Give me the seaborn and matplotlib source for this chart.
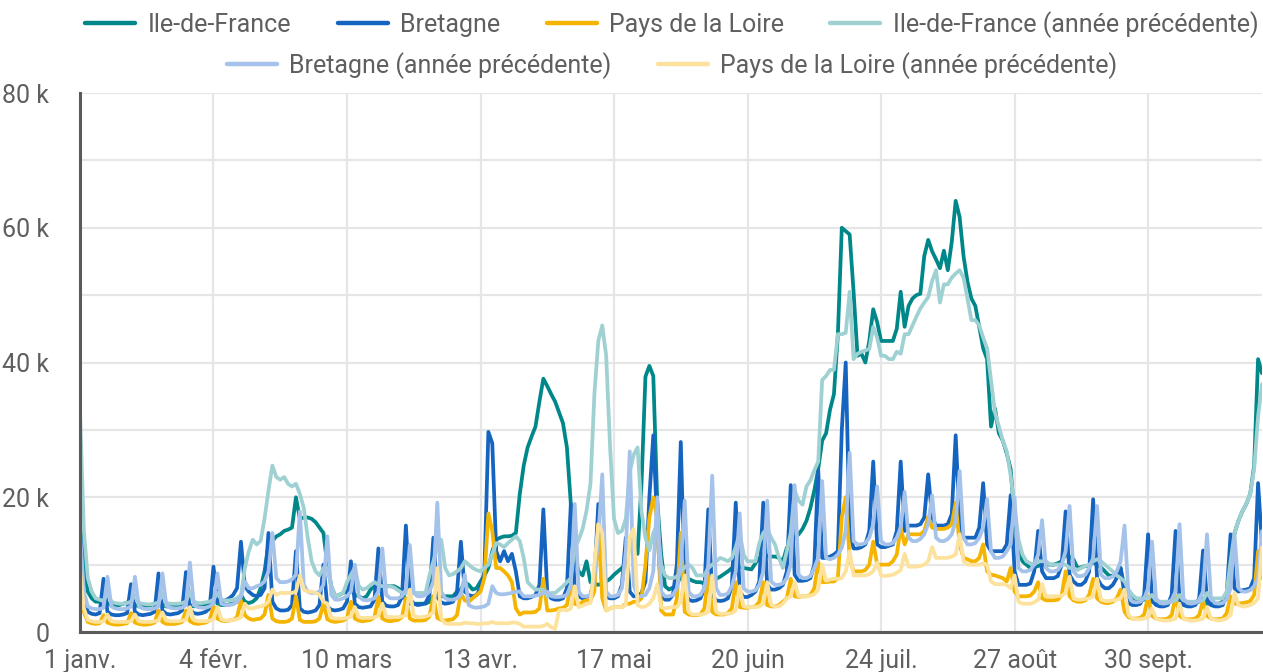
import numpy as np
import pandas as pd
import matplotlib
matplotlib.use("Agg")
import matplotlib.pyplot as plt
from matplotlib.lines import Line2D
import seaborn as sns

# ── Data (valeurs journalières, en milliers) ─────────────────────────────────
START = "2023-01-01"

idf = [
    20, 10, 6, 5, 4.5, 4.5, 5.5,
    4.2, 4, 4, 4, 4.2, 4.3, 5,
    4, 3.8, 3.8, 3.9, 4, 4.2, 5,
    4, 3.8, 3.8, 3.9, 4, 4.2, 5.2,
    4, 3.8, 3.9, 4, 4.1, 4.3, 5.5,
    4.2, 4, 4, 4.1, 4.2, 4.5, 5.5,
    4.5, 4.3, 4.5, 5, 6.5, 9, 13,
    13.5, 14.2, 14.5, 15, 15.2, 15.5, 20,
    16.8, 17, 17, 16.8, 16.3, 15.5, 14.7,
    10, 6.8, 5.3, 5.5, 5.8, 6, 6.3,
    5.5, 5.3, 5, 5.3, 6.3, 6.8, 6.8,
    6.8, 6.8, 6.8, 6.8, 6.5, 6, 4.7,
    4.2, 4.2, 4.2, 4.2, 4.2, 4.5, 5.3,
    5.3, 5.3, 5.3, 5.3, 5.3, 6, 6.3,
    7.4, 7, 6.3, 6.5, 7.5, 8.4, 9.5,
    12, 13.7, 14, 14.2, 14.2, 14.3, 14.7,
    20.5, 24.7, 27.4, 29, 30.5, 34.2, 37.6,
    36.5, 35.3, 34.2, 32.6, 31, 27.4, 19,
    11, 9, 8.4, 10.5, 7.4, 7.2, 7,
    7.2, 7.5, 7.9, 8.5, 9, 9.5, 10,
    12.6, 12, 11.6, 22, 37.9, 39.5, 38,
    19.5, 11.6, 6.8, 6.3, 6.6, 7, 8.4,
    8, 7.9, 7.6, 7.4, 7.4, 7.2, 7.2,
    7.4, 7.9, 8.2, 8.6, 9, 9.5, 10,
    9.7, 9.5, 9.4, 9.3, 10.2, 11, 11.6,
    11.3, 11.2, 11.2, 11, 10.5, 12.5, 13.2,
    14, 14.5, 15.3, 16.5, 18.4, 21, 24.2,
    28.4, 29.5, 33, 35.3, 44.2, 60, 59.5,
    59, 50.5, 41, 41.3, 40, 43.2, 47.9,
    46, 43.2, 43.2, 43.2, 43.2, 45, 50.5,
    45.3, 48.4, 49.5, 50, 50.2, 55.8, 58.2,
    56.5, 55.3, 54, 56.6, 53.7, 57.9, 64,
    61.6, 55.8, 52, 49.5, 48.4, 45.3, 42.1,
    40.5, 30.5, 33.2, 29.5, 28.4, 26.5, 24.2,
    16.8, 12.6, 10.5, 10, 9.5, 9.6, 9.8,
    10, 10, 10, 10, 10.2, 10.5, 11.5,
    11.2, 10.8, 9.5, 9.6, 9.8, 9.8, 10.4,
    10, 9.6, 9, 8.4, 8.3, 8.4, 9.5,
    6.5, 5.8, 5, 4.7, 4.7, 4.8, 5,
    4.5, 4.2, 4.2, 4.2, 4.4, 4.6, 5,
    4.7, 4.2, 4.2, 4.2, 4.3, 4.5, 5,
    4.2, 4.2, 4.2, 4.2, 4.5, 5.3, 10,
    14.7, 16.5, 17.9, 19, 20.5, 24.7, 40.5,
    38.4,
]

bretagne = [
    15, 5, 3, 2.7, 2.6, 2.8, 7.9,
    3, 2.6, 2.5, 2.5, 2.6, 2.8, 7.1,
    3, 2.6, 2.5, 2.6, 2.7, 3, 8.7,
    3.2, 2.7, 2.6, 2.7, 2.8, 3.2, 8.9,
    3.3, 2.8, 2.7, 2.8, 3, 3.5, 9.7,
    4.5, 4.5, 4.7, 5, 5.5, 6.5, 13.4,
    6.8, 6, 5.5, 5.3, 5.5, 6.5, 14.7,
    4.5, 3.5, 3.2, 3.2, 3.3, 4, 12,
    3.5, 3, 2.9, 3, 3.2, 4, 10,
    3.8, 3.3, 3.2, 3.3, 3.5, 4.5, 10.5,
    4.2, 3.7, 3.6, 3.7, 3.8, 4.8, 12.4,
    4.5, 3.9, 3.8, 3.8, 4, 5.2, 15.8,
    5, 4.2, 4, 4.1, 4.3, 5.5, 14,
    5.2, 4.4, 4.2, 4.3, 4.5, 5.8, 13.4,
    6, 5.5, 5.3, 5.5, 6.5, 9, 29.7,
    28, 12, 10.5, 12, 10.5, 11.6, 9,
    5.3, 5, 5, 5.2, 5.5, 7, 18.2,
    5.8, 5, 4.8, 4.8, 5, 6.5, 19,
    6, 5.3, 5, 5.2, 5.5, 8, 19,
    6, 5.2, 5, 5, 5.3, 7, 14,
    6, 5.3, 5.3, 5.8, 7.5, 20, 29.2,
    16, 5.5, 4.8, 4.8, 5.5, 10, 28.2,
    6, 4.8, 4.6, 4.7, 5, 6.5, 18.2,
    5.5, 4.7, 4.6, 4.7, 5, 6.8, 19.2,
    6, 5.2, 5.2, 5.5, 6, 7.5, 19.2,
    7, 6.3, 6.3, 6.5, 7, 9, 21.8,
    8.5, 7.6, 7.6, 7.7, 8, 10, 24,
    11, 11, 11.2, 11.5, 12, 30, 40,
    15, 12.4, 12.4, 12.6, 13, 15, 25.3,
    13, 12.6, 12.6, 12.8, 13, 15, 25.3,
    15, 15.8, 15.8, 15.8, 16, 17, 23.4,
    17, 15.8, 15.8, 15.8, 16, 17.5, 29.2,
    16.5, 14, 14, 14, 14, 15.5, 22.1,
    13, 12, 12, 12, 12, 13, 20.3,
    9, 7, 7, 7, 7.2, 9, 15,
    9, 8, 8, 8, 8.3, 10, 17.9,
    8.5, 7.5, 7, 7, 7.5, 9, 19.7,
    8, 7, 6.5, 6.5, 7, 8, 9.5,
    5.5, 4.3, 4, 4, 4.2, 5.5, 14.5,
    4.8, 4, 3.8, 3.8, 4, 5.5, 15,
    4.8, 4, 3.8, 3.8, 4, 5, 12.1,
    4.8, 4, 3.8, 3.8, 4, 5.5, 14.5,
    6.5, 6, 6.2, 6.3, 6.5, 8, 22.1,
    13,
]

pdl = [
    8.5, 3, 1.5, 1.3, 1.2, 1.3, 2.5,
    1.4, 1.2, 1.1, 1.1, 1.2, 1.3, 2.8,
    1.4, 1.2, 1.1, 1.1, 1.2, 1.4, 3.2,
    1.5, 1.2, 1.2, 1.2, 1.3, 1.5, 3.2,
    1.6, 1.3, 1.2, 1.3, 1.4, 1.7, 3.9,
    2, 1.7, 1.6, 1.7, 1.8, 2.2, 4.7,
    2.5, 2, 1.8, 1.9, 2, 2.6, 5.5,
    2, 1.6, 1.5, 1.5, 1.6, 2, 5.3,
    1.8, 1.5, 1.5, 1.5, 1.6, 2, 4.2,
    1.9, 1.6, 1.5, 1.6, 1.7, 2.1, 4.5,
    2, 1.7, 1.6, 1.7, 1.8, 2.2, 5.3,
    2, 1.7, 1.6, 1.7, 1.8, 2.2, 5,
    2, 1.7, 1.7, 1.7, 1.8, 2.3, 5.3,
    2.1, 1.8, 1.7, 1.8, 1.9, 2.5, 5.8,
    4.7, 4.5, 5, 5.5, 6, 8, 17.6,
    15, 9.5, 9.5, 9, 8.4, 7.4, 3.5,
    2.6, 2.9, 2.9, 2.9, 3, 3.5, 7.9,
    3.2, 3.2, 3.3, 3.5, 3.6, 4, 6.8,
    4.2, 4, 4.5, 4.7, 4.7, 6, 16,
    5, 3.2, 3.5, 3.7, 3.7, 3.7, 4.2,
    4.2, 4.5, 4.5, 5, 10, 17, 20,
    16.8, 3.2, 2.6, 2.6, 2.6, 5, 14.7,
    3, 2.6, 2.5, 2.5, 2.6, 3.5, 8.4,
    3, 2.6, 2.6, 2.6, 2.8, 3.5, 7.4,
    3.7, 3.6, 3.6, 3.7, 3.8, 4.5, 7.4,
    4, 3.8, 3.8, 4, 4.5, 5, 7.9,
    5.3, 5.2, 5.3, 5.3, 5.5, 6.5, 10.5,
    7.4, 7.4, 7.5, 7.5, 8, 17, 20,
    11, 9, 9, 9, 9.2, 10, 13.4,
    10, 10, 10, 10, 10.5, 11.5, 15.5,
    13, 14.5, 14.5, 14.5, 14.5, 15, 17.1,
    15.5, 15.3, 15.3, 15.3, 15.5, 16, 19.2,
    13, 11, 10.8, 10.5, 10.5, 11, 13,
    9, 8.5, 8.4, 8.2, 8, 7.5, 9.5,
    6, 5.3, 5.3, 5.3, 5.4, 6, 7.4,
    5, 4.7, 4.7, 4.7, 4.8, 5.5, 9,
    5.3, 4.7, 4.5, 4.5, 4.7, 5.5, 7.9,
    5, 4.5, 4.3, 4.3, 4.5, 5, 6.3,
    3, 2.2, 2, 2, 2.1, 2.6, 5.3,
    2.4, 2, 1.9, 1.9, 2, 2.5, 5.3,
    2.4, 2, 1.9, 1.9, 2, 2.5, 4.7,
    2.4, 2, 1.9, 1.9, 2, 2.8, 5.3,
    4.2, 4.2, 4.3, 4.4, 4.6, 5.5, 12,
    8,
]

idf_prev = [
    33, 15, 8, 6, 5, 4.8, 4.6,
    5.8, 4.5, 4.3, 4.2, 4.2, 4.3, 4.5,
    5.5, 4.3, 4.2, 4.1, 4.1, 4.2, 4.4,
    5.6, 4.3, 4.2, 4.2, 4.2, 4.3, 4.5,
    6, 4.5, 4.3, 4.3, 4.4, 4.5, 4.8,
    5.8, 4.8, 4.7, 4.7, 4.8, 5, 5.5,
    9.5, 12, 13.7, 13, 13.5, 16.8, 21,
    24.7, 23, 22.6, 23, 22, 21.6, 22,
    20.5, 18.4, 14, 10.5, 9, 8.4, 9.5,
    9.5, 6.8, 5.3, 5.5, 5.8, 7.4, 8.5,
    9.5, 6.8, 6.3, 6.5, 7, 7.4, 7,
    6.8, 6.8, 6.8, 6.6, 6.2, 5.8, 5.8,
    5.8, 5.8, 5.8, 5.8, 5.8, 8.4, 10.5,
    12.6, 13.7, 9.5, 8.4, 8.6, 9, 9.5,
    10.5, 10, 9.5, 9.2, 9, 9.5, 10,
    11.6, 13.2, 13, 12.6, 13.2, 13.7, 14.2,
    13.5, 11, 7.4, 6.8, 6.3, 6.3, 6.3,
    5.3, 5.8, 5.8, 6.3, 6.8, 7.4, 8,
    12.5, 13.7, 15.3, 18, 22, 35.3, 43.2,
    45.5, 41, 27.4, 16.8, 14.7, 15, 16.8,
    23.7, 26.3, 27.4, 17.9, 14, 12.1, 14.7,
    16, 10, 8.4, 8, 8, 8.2, 9,
    9.6, 10, 9.5, 8.4, 8.4, 8.4, 9.5,
    10, 10.5, 11, 10.8, 10.5, 11, 12.6,
    14.7, 11.5, 10.5, 10.5, 10.5, 13.2, 14.7,
    15.3, 14, 13, 11, 9.5, 12, 14.7,
    21, 19.5, 18.9, 21.6, 22.5, 24, 25.3,
    37.4, 38, 38.9, 38.9, 44.2, 44.2, 44.4,
    50.5, 40.5, 41.3, 41.6, 41.8, 42, 45.3,
    43.7, 41, 41, 40.5, 40.5, 41.6, 41.3,
    44.2, 44.2, 45.5, 46.8, 48, 48.9, 49.7,
    52.1, 53.7, 48.9, 51.6, 51.6, 52.6, 53.2,
    53.7, 52.6, 49.5, 46.3, 46.3, 45.5, 43.7,
    42.1, 37.4, 32.6, 30.5, 28.4, 26.8, 23.2,
    18.4, 13.7, 11.5, 10.5, 10.2, 10, 10.5,
    10.5, 10.5, 10, 10, 10, 10, 10,
    9.5, 9.5, 9.2, 9.5, 9.8, 10, 10.5,
    10.8, 10.5, 10, 9.5, 9, 8.4, 8,
    7.5, 6.3, 5.5, 5, 5, 5, 5,
    5.5, 4.7, 4.5, 4.5, 4.5, 4.5, 4.7,
    5.5, 4.7, 4.5, 4.5, 4.5, 4.5, 4.7,
    5.8, 5, 5, 5, 5, 6, 10.5,
    14.7, 16.5, 17.9, 19, 20.5, 24.2, 32,
    36.8,
]

bretagne_prev = [
    14.7, 6, 3.8, 3.5, 3.4, 3.4, 3.6,
    8.2, 3.8, 3.5, 3.4, 3.4, 3.5, 3.8,
    8.2, 3.8, 3.5, 3.4, 3.4, 3.5, 3.8,
    8.7, 3.9, 3.6, 3.5, 3.5, 3.6, 4,
    10.3, 4, 3.7, 3.6, 3.6, 3.8, 4.2,
    8.7, 4.2, 4, 4, 4.1, 4.5, 5.2,
    7.5, 6.5, 6.5, 6.8, 7, 7.5, 9,
    14.7, 8, 7.4, 7.4, 7.5, 7.8, 8.5,
    17.9, 7, 6, 5.8, 5.8, 6, 7,
    14.2, 5.5, 4.8, 4.8, 5, 5.3, 6,
    10, 5.3, 4.8, 4.7, 4.8, 5, 6,
    12.4, 5.5, 5, 5, 5, 5.3, 6.3,
    12.9, 5.8, 5.3, 5.3, 5.5, 6, 7.5,
    19.2, 6, 5, 4.8, 4.8, 5, 5.5,
    8.5, 4, 3.7, 3.6, 3.7, 3.8, 4.2,
    6.8, 5.8, 5.6, 5.6, 5.7, 5.8, 6,
    6, 5.3, 5.3, 5.3, 5.4, 5.5, 5.8,
    6, 5.3, 5.2, 5.2, 5.3, 5.5, 7,
    19, 6, 5.3, 5.3, 5.5, 8, 14,
    23.4, 6, 5.3, 5.3, 5.5, 6.5, 12,
    26.8, 7, 5.3, 5.3, 5.5, 6.5, 9,
    20, 6, 5.3, 5.3, 5.5, 6.5, 10,
    19.5, 6, 5.3, 5.3, 5.5, 6.5, 10,
    23.2, 6.5, 5.5, 5.5, 5.7, 6.8, 9,
    17.6, 6.5, 6, 6, 6.2, 7, 9,
    19.5, 7.5, 7, 7, 7.2, 8, 10,
    21.8, 8.5, 8, 8, 8.3, 9.5, 11,
    22.4, 11, 10.8, 11, 11.5, 12.5, 15,
    26.6, 13.5, 13, 13, 13.2, 14, 16,
    21.6, 13.5, 13, 13, 13.2, 14, 15.5,
    20.8, 14, 13.5, 13.5, 13.8, 14.5, 16,
    20.3, 14, 13.5, 13.5, 13.8, 14.5, 16.5,
    23.9, 14, 13, 13, 13.2, 14, 15.5,
    19.7, 12, 11, 11, 11.2, 12, 13,
    20, 9.5, 9, 9, 9.2, 10, 11.5,
    16.6, 9.5, 9, 9, 9.2, 10, 12,
    18.7, 9, 8.3, 8.3, 8.5, 9.5, 11,
    18.7, 8.5, 8, 8, 8.2, 9, 10.5,
    15.8, 5.5, 4.5, 4.4, 4.5, 5, 6.5,
    13.4, 5, 4.3, 4.2, 4.3, 4.8, 6,
    16, 5, 4.3, 4.2, 4.3, 4.8, 6,
    14.5, 5, 4.3, 4.2, 4.3, 4.8, 6.5,
    14.5, 6.5, 6, 6, 6.2, 6.8, 8,
    15,
]

pdl_prev = [
    9.5, 3.5, 1.8, 1.6, 1.5, 1.5, 1.6,
    2.6, 1.6, 1.5, 1.5, 1.5, 1.5, 1.6,
    2.6, 1.6, 1.5, 1.5, 1.5, 1.6, 1.7,
    2.9, 1.7, 1.6, 1.6, 1.6, 1.7, 1.8,
    3.7, 1.8, 1.6, 1.6, 1.6, 1.7, 1.9,
    3.7, 1.9, 1.7, 1.7, 1.8, 1.9, 2.2,
    4.2, 3.5, 3.5, 3.7, 3.8, 4, 4.5,
    6.3, 5.5, 5.8, 5.8, 5.8, 5.8, 6,
    8.4, 6.3, 6, 6, 5.8, 5.5, 4.5,
    4.2, 2.1, 2, 2, 2, 2.1, 2.3,
    3.7, 2.2, 2.1, 2.1, 2.1, 2.2, 2.4,
    4.2, 2.3, 2.2, 2.2, 2.2, 2.3, 2.5,
    6.3, 2.4, 2.2, 2.2, 2.3, 2.5, 3,
    9.5, 2, 1.3, 1.2, 1.2, 1.2, 1.2,
    1.4, 1.3, 1.3, 1.2, 1.2, 1.3, 1.3,
    1.5, 1.3, 1.3, 1.3, 1.3, 1.4, 1.4,
    1.2, 0.8, 0.8, 0.8, 0.8, 0.8, 0.9,
    1.2, 0.7, 0.5, 3.2, 3.3, 3.2, 3.5,
    6.8, 3.7, 3.9, 4.2, 4.3, 10, 16,
    14.7, 3.2, 3.5, 3.7, 3.7, 3.7, 4,
    14, 15.3, 4, 3.7, 3.8, 4.2, 5,
    7.1, 3.7, 3.5, 3.6, 3.7, 3.7, 4.5,
    8.4, 3, 2.6, 2.6, 2.6, 2.7, 3,
    8.4, 3, 2.7, 2.7, 2.7, 2.8, 3.2,
    6.8, 3.8, 3.7, 3.7, 3.7, 3.8, 4.2,
    7.4, 4, 3.8, 3.8, 4.2, 5, 5.3,
    7.4, 5.3, 5.3, 5.3, 5.4, 5.6, 6.3,
    10, 7.6, 7.8, 7.9, 7.9, 8, 9,
    12, 8.4, 8.4, 8.4, 8.4, 8.6, 9,
    10.3, 8.4, 8.3, 8.4, 8.5, 8.8, 9.2,
    11.6, 9.7, 9.7, 9.7, 9.8, 10, 10.5,
    12.6, 11, 11, 11, 11, 11.2, 11.5,
    14.5, 10.5, 10, 10, 10, 10, 10.2,
    10, 7.5, 7.1, 7.1, 7.1, 7, 6.5,
    8.4, 4.5, 4.2, 4.2, 4.2, 4.4, 4.8,
    7.1, 5.3, 5.3, 5.3, 5.3, 5.4, 5.8,
    8.2, 5, 4.8, 4.8, 4.9, 5, 5.3,
    7.9, 4.8, 4.6, 4.6, 4.7, 4.8, 5,
    6.3, 2.5, 2, 1.9, 1.9, 2, 2.2,
    3.5, 2, 1.8, 1.7, 1.7, 1.8, 2,
    4.2, 2, 1.8, 1.7, 1.7, 1.8, 2,
    3.7, 2, 1.8, 1.7, 1.8, 2, 2.5,
    5.8, 4, 3.8, 3.8, 4, 4.3, 5,
    12.6,
]

SERIES = ["Ile-de-France", "Bretagne", "Pays de la Loire",
          "Ile-de-France (année précédente)", "Bretagne (année précédente)",
          "Pays de la Loire (année précédente)"]
COLORS = ["#00878A", "#1565C0", "#F4B400", "#9FD1D3", "#A4C2EA", "#FCE29C"]

TICK_DATES = ["2023-01-01", "2023-02-04", "2023-03-10", "2023-04-13", "2023-05-17",
              "2023-06-20", "2023-07-24", "2023-08-27", "2023-09-30"]
TICK_LABELS = ["1 janv.", "4 févr.", "10 mars", "13 avr.", "17 mai",
               "20 juin", "24 juil.", "27 août", "30 sept."]

# ── Long-form table ──────────────────────────────────────────────────────────
dates = pd.date_range(START, periods=len(idf), freq="D")
frames = []
for name, vals in zip(SERIES, [idf, bretagne, pdl, idf_prev, bretagne_prev, pdl_prev]):
    frames.append(pd.DataFrame({"date": dates[:len(vals)], "valeur": vals, "serie": name}))
df = pd.concat(frames, ignore_index=True)

# ── Style ────────────────────────────────────────────────────────────────────
sns.set_theme(style="white")
plt.rcParams["font.family"] = ["Roboto", "DejaVu Sans"]
TEXT = "#5f5f5f"
FS = 18

fig = plt.figure(figsize=(12.63, 6.72), dpi=100)
ax = fig.add_axes([0.0633, 0.0595, 0.9359, 0.8021])

sns.lineplot(data=df, x="date", y="valeur", hue="serie", hue_order=SERIES,
             palette=COLORS, linewidth=2.7, legend=False, ax=ax)

ax.set_xlim(dates[0], dates[-1])
ax.set_ylim(0, 80)
ax.set_yticks(np.arange(0, 81, 10))
ax.set_yticklabels(["0" if v == 0 else (f"{v} k" if v % 20 == 0 else "")
                    for v in range(0, 81, 10)])
ax.set_xticks(pd.to_datetime(TICK_DATES))
ax.set_xticklabels(TICK_LABELS)
ax.tick_params(axis="both", length=0, labelsize=FS, labelcolor=TEXT)
ax.tick_params(axis="y", pad=22)
ax.tick_params(axis="x", pad=12)
ax.set_xlabel("")
ax.set_ylabel("")

ax.grid(True, color="#e6e6e6", linewidth=1.6)
ax.set_axisbelow(True)
for side in ["top", "right"]:
    ax.spines[side].set_visible(False)
for side in ["left", "bottom"]:
    ax.spines[side].set_color("#5a5a5a")
    ax.spines[side].set_linewidth(2.2)
    ax.spines[side].set_zorder(5)

handles = [Line2D([], [], color=c, linewidth=3.2) for c in COLORS]
leg_kw = dict(loc="center", frameon=False, fontsize=FS, handlelength=2.0,
              handletextpad=0.5, columnspacing=1.85, labelcolor=TEXT)
fig.legend(handles[:4], SERIES[:4], ncol=4,
           bbox_to_anchor=(0.532, 0.964), **leg_kw)
fig.legend(handles[4:], SERIES[4:], ncol=2,
           bbox_to_anchor=(0.532, 0.903), **leg_kw)

fig.savefig("out.png", dpi=100)
plt.close(fig)
